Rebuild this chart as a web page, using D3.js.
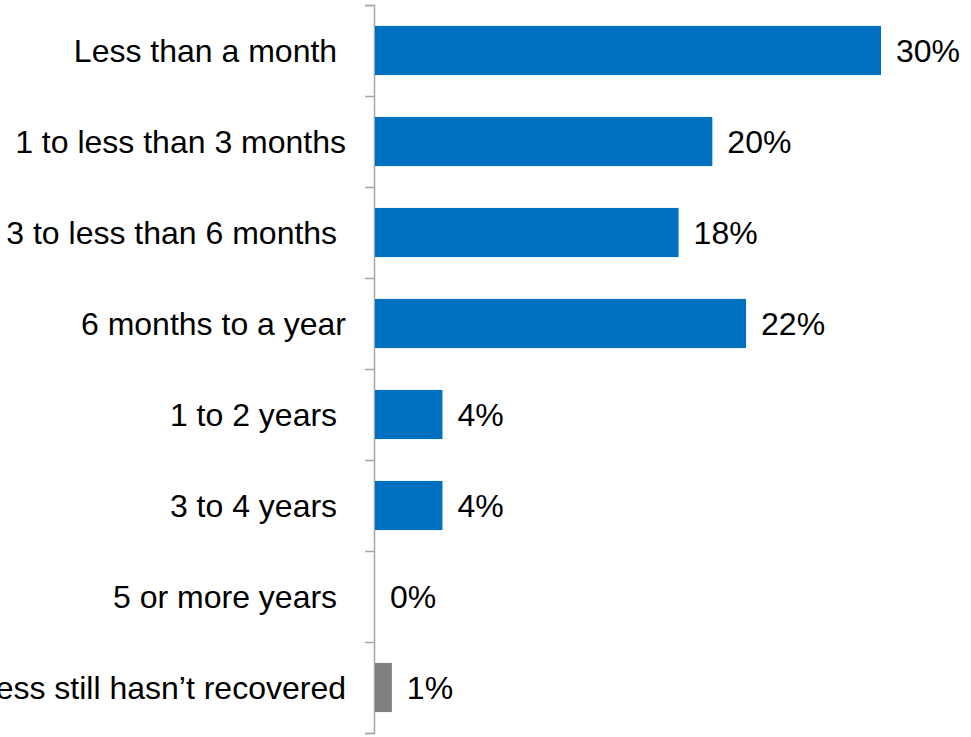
<!DOCTYPE html>
<html>
<head>
<meta charset="utf-8">
<script src="https://cdn.jsdelivr.net/npm/d3@7"></script>
<style>
  body { margin: 0; background: #fff; }
  text { font-family: "Liberation Sans", Arial, sans-serif; white-space: pre; }
</style>
</head>
<body>
<div id="chart"></div>
<script>
// categories as shown top to bottom (trailing spaces kept as in the original)
const categories = [
    "Less than a month ",
    "1 to less than 3 months",
    "3 to less than 6 months ",
    "6 months to a year",
    "1 to 2 years ",
    "3 to 4 years ",
    "5 or more years ",
    "Business still hasn\u2019t recovered"
];
const values = [30, 20, 18, 22, 4, 4, 0, 1];
const valueLabels = ["30%", "20%", "18%", "22%", "4%", "4%", "0%", "1%"];
const barColors = ["#0070C0", "#0070C0", "#0070C0", "#0070C0", "#0070C0", "#0070C0", "#0070C0", "#808080"];

const margin = { top: 5, right: 91, bottom: 4, left: 374 };
const width = 971 - margin.left - margin.right;
const height = 737 - margin.top - margin.bottom;

const svg = d3.select("#chart")
    .append("svg")
    .attr("width", width + margin.left + margin.right)
    .attr("height", height + margin.top + margin.bottom)
    .append("g")
    .attr("transform", `translate(${margin.left},${margin.top})`);

const data = categories.map((c, i) => ({ cat: c, value: values[i], label: valueLabels[i], color: barColors[i] }));

// scales
const xScale = d3.scaleLinear()
    .domain([0, 30])
    .range([0, 506]);

const yScale = d3.scaleBand()
    .domain(categories)
    .range([0, height])
    .paddingInner(0.46)
    .paddingOuter(0.23);

// axis with tick marks between the categories
const edgeScale = d3.scaleLinear()
    .domain([0, categories.length])
    .range([0, height]);

const yAxis = d3.axisLeft(edgeScale)
    .tickValues(d3.range(categories.length + 1))
    .tickSize(9)
    .tickFormat("");

const axisG = svg.append("g").call(yAxis);
axisG.selectAll("path, line")
    .attr("stroke", "#a6a6a6")
    .attr("stroke-width", 1.5);

// bars
svg.selectAll(".bar")
    .data(data)
    .enter()
    .append("rect")
    .attr("class", "bar")
    .attr("x", 1)
    .attr("y", d => yScale(d.cat))
    .attr("width", d => xScale(d.value))
    .attr("height", yScale.bandwidth())
    .style("fill", d => d.color);

// value labels
svg.selectAll(".val")
    .data(data)
    .enter()
    .append("text")
    .attr("class", "val")
    .attr("x", d => xScale(d.value) + 16)
    .attr("y", d => yScale(d.cat) + yScale.bandwidth() / 2)
    .attr("dy", "0.36em")
    .style("font-size", "32px")
    .style("fill", "#000")
    .text(d => d.label);

// category labels
svg.selectAll(".cat")
    .data(data)
    .enter()
    .append("text")
    .attr("class", "cat")
    .attr("text-anchor", "end")
    .attr("x", -28)
    .attr("y", d => yScale(d.cat) + yScale.bandwidth() / 2)
    .attr("dy", "0.36em")
    .style("font-size", "32px")
    .style("fill", "#000")
    .text(d => d.cat);
</script>
</body>
</html>
